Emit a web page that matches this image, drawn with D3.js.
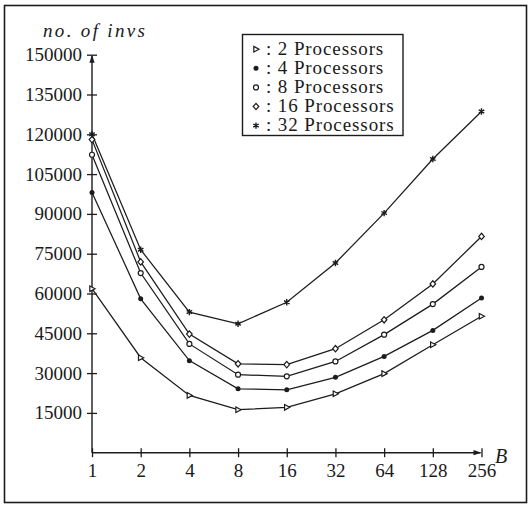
<!DOCTYPE html>
<html>
<head>
<meta charset="utf-8">
<script src="https://cdn.jsdelivr.net/npm/d3@7"></script>
<style>
  html, body { margin: 0; padding: 0; background: #fff; }
  svg text { font-family: "Liberation Serif", "Times New Roman", serif; fill: #1a1a1a; }
</style>
</head>
<body>
<svg id="chart" width="530" height="506"></svg>
<script>
// ---- data ----
const blockSizes = [1, 2, 4, 8, 16, 32, 64, 128, 256];
const seriesNames = ["2 Processors", "4 Processors", "8 Processors", "16 Processors", "32 Processors"];
const procs2  = [61800, 35800, 21600, 16200, 17100, 22200, 29800, 40700, 51400];
const procs4  = [98100, 58000, 34700, 24100, 23700, 28400, 36300, 46100, 58300];
const procs8  = [112300, 67700, 41000, 29400, 28800, 34400, 44500, 56000, 70000];
const procs16 = [118000, 71900, 44700, 33500, 33200, 39200, 50100, 63600, 81500];
const procs32 = [120000, 76500, 53000, 48600, 56700, 71500, 90300, 110700, 128600];
const yTicks = [15000, 30000, 45000, 60000, 75000, 90000, 105000, 120000, 135000, 150000];
const markerKinds = ["triangle", "dot", "circle", "diamond", "star"];
const allSeries = [procs2, procs4, procs8, procs16, procs32];

const ink = "#1c1c1c";
const svg = d3.select("#chart");

// outer frame
svg.append("rect").attr("x", 4.5).attr("y", 5.5).attr("width", 522).attr("height", 497)
  .attr("fill", "none").attr("stroke", ink).attr("stroke-width", 1.6);

const x = d3.scaleLog().base(2).domain([1, 256]).range([92, 481.5]);
const y = d3.scaleLinear().domain([0, 150000]).range([452.7, 54.7]);

// x axis
const xAxis = svg.append("g").attr("transform", `translate(0,${y(0)})`)
  .call(d3.axisBottom(x).tickValues(blockSizes).tickFormat(d3.format("d")).tickSize(4).tickPadding(10));
xAxis.select(".domain").remove();
xAxis.selectAll(".tick line").attr("y1", -4.5).attr("y2", 4.5).attr("stroke", ink).attr("stroke-width", 1.3);
xAxis.selectAll(".tick text").attr("font-size", 19).attr("dy", "0.71em").attr("y", 11)
  .style("font-family", "'Liberation Serif', serif").attr("fill", ink);
svg.append("line").attr("x1", x(1)).attr("x2", x(256) - 1).attr("y1", y(0)).attr("y2", y(0))
  .attr("stroke", ink).attr("stroke-width", 1.4);
svg.append("path")
  .attr("d", `M${x(256)},${y(0)} l-8,-2.6 l0,5.2 Z`).attr("fill", ink);

// y axis
const yAxis = svg.append("g").attr("transform", `translate(${x(1)},0)`)
  .call(d3.axisLeft(y).tickValues(yTicks).tickFormat(d3.format("d")).tickSize(4).tickPadding(8));
yAxis.select(".domain").remove();
yAxis.selectAll(".tick line").attr("x1", -5).attr("x2", 5).attr("stroke", ink).attr("stroke-width", 1.3);
yAxis.selectAll(".tick text").attr("font-size", 19).attr("x", -10)
  .style("font-family", "'Liberation Serif', serif").attr("fill", ink);
svg.append("line").attr("x1", x(1)).attr("x2", x(1)).attr("y1", y(0)).attr("y2", y(150000) + 1)
  .attr("stroke", ink).attr("stroke-width", 1.4);
svg.append("path")
  .attr("d", `M${x(1)},${y(150000)} l-2.6,8 l5.2,0 Z`).attr("fill", ink);

// axis titles
svg.append("text").attr("x", 43).attr("y", 37).attr("font-size", 19).attr("font-style", "italic")
  .attr("textLength", 102).attr("lengthAdjust", "spacing")
  .text("no. of invs");
svg.append("text").attr("x", 495).attr("y", 463).attr("font-size", 20).attr("font-style", "italic")
  .text("B");

// markers
function drawMarker(g, kind, cx, cy) {
  if (kind === "triangle") {
    g.append("path").attr("d", `M${cx - 2.2},${cy - 2.8} L${cx + 3},${cy} L${cx - 2.2},${cy + 2.8} Z`)
      .attr("fill", "#fff").attr("stroke", ink).attr("stroke-width", 1.2);
  } else if (kind === "dot") {
    g.append("circle").attr("cx", cx).attr("cy", cy).attr("r", 2.5).attr("fill", ink);
  } else if (kind === "circle") {
    g.append("circle").attr("cx", cx).attr("cy", cy).attr("r", 2.5)
      .attr("fill", "#fff").attr("stroke", ink).attr("stroke-width", 1.2);
  } else if (kind === "diamond") {
    g.append("path").attr("d", `M${cx},${cy - 3.2} L${cx + 2.8},${cy} L${cx},${cy + 3.2} L${cx - 2.8},${cy} Z`)
      .attr("fill", "#fff").attr("stroke", ink).attr("stroke-width", 1.2);
  } else if (kind === "star") {
    const s = d3.symbol().type(d3.symbolAsterisk).size(28)();
    g.append("path").attr("d", s).attr("transform", `translate(${cx},${cy})`)
      .attr("fill", "none").attr("stroke", ink).attr("stroke-width", 1.4);
  }
}

// lines
const line = d3.line().x((d, i) => x(blockSizes[i])).y(d => y(d));
allSeries.forEach((vals) => {
  svg.append("path").datum(vals).attr("d", line)
    .attr("fill", "none").attr("stroke", ink).attr("stroke-width", 1.25);
});
allSeries.forEach((vals, si) => {
  const g = svg.append("g");
  vals.forEach((v, i) => drawMarker(g, markerKinds[si], x(blockSizes[i]), y(v)));
});

// legend
svg.append("rect").attr("x", 242.5).attr("y", 34.5).attr("width", 160.5).attr("height", 101)
  .attr("fill", "#fff").attr("stroke", ink).attr("stroke-width", 1.4);
seriesNames.forEach((name, i) => {
  const by = 54.7 + i * 19.1;
  const lg = svg.append("g");
  drawMarker(lg, markerKinds[i], 256, by - 5.5);
  svg.append("text").attr("x", 266).attr("y", by).attr("font-size", 19)
    .attr("letter-spacing", 0.9).text(": " + name);
});
</script>
</body>
</html>
